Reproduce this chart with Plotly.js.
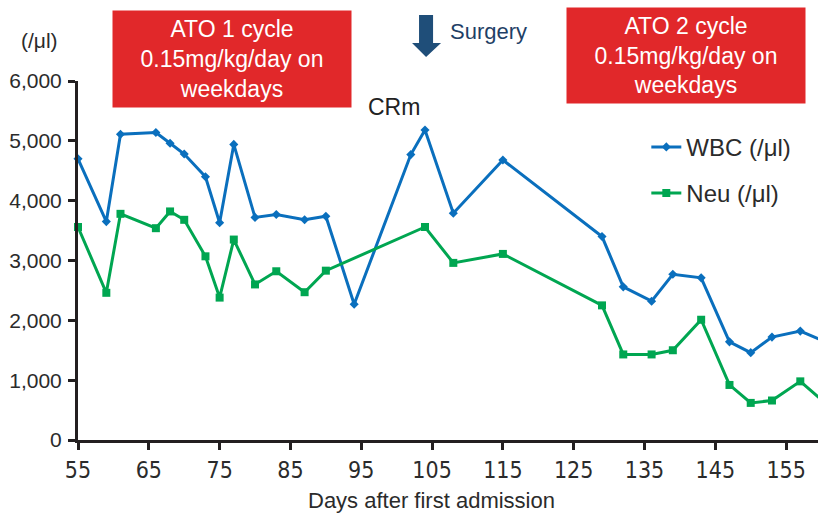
<!DOCTYPE html>
<html>
<head>
<meta charset="utf-8">
<script src="https://cdn.plot.ly/plotly-3.0.1.min.js"></script>
<style>html,body{margin:0;padding:0;background:#fff;}#chart{width:819px;height:514px;}</style>
</head>
<body>
<div id="chart"></div>
<script>
// Days after first admission
const daysWBC = [55,59,61,66,68,70,73,75,77,80,83,87,90,94,102,104,108,115,129,132,136,139,143,147,150,153,157,160];
const wbc     = [4700,3650,5110,5140,4960,4780,4400,3630,4940,3720,3770,3680,3740,2270,4770,5180,3790,4680,3400,2560,2320,2770,2710,1640,1460,1720,1820,1670];
const daysNeu = [55,59,61,66,68,70,73,75,77,80,83,87,90,104,108,115,129,132,136,139,143,147,150,153,157,160];
const neu     = [3560,2460,3780,3540,3820,3680,3070,2380,3350,2600,2820,2470,2830,3560,2960,3110,2250,1430,1430,1500,2010,920,620,660,980,670];
const xTicks = [55,65,75,85,95,105,115,125,135,145,155];
const yTicks = [0,1000,2000,3000,4000,5000,6000];

const traces = [
  {x: daysWBC, y: wbc, name: 'WBC (/μl)', type: 'scatter', mode: 'lines+markers',
   legendgroup: 'a', cliponaxis: false,
   line: {color: '#0a6fbd', width: 3}, marker: {symbol: 'diamond', size: 7, color: '#0a6fbd'}},
  {x: daysNeu, y: neu, name: 'Neu (/μl)', type: 'scatter', mode: 'lines+markers',
   legendgroup: 'b', cliponaxis: false,
   line: {color: '#00a651', width: 3}, marker: {symbol: 'square', size: 8, color: '#00a651'}}
];

const red = '#e1282a';
const layout = {
  width: 819, height: 514,
  margin: {l: 78, r: 1, t: 81, b: 74},
  paper_bgcolor: '#fff', plot_bgcolor: '#fff',
  font: {family: '"Liberation Sans", Arial, sans-serif', color: '#2b2b2b'},
  showlegend: true,
  legend: {x: 0.768, y: 0.878, xanchor: 'left', yanchor: 'top', traceorder: 'grouped', tracegroupgap: 12,
           itemwidth: 30, font: {size: 24, color: '#2b2b2b'}, bgcolor: 'rgba(0,0,0,0)'},
  xaxis: {range: [55, 159.5], tickvals: xTicks, ticktext: xTicks.map(String),
          showline: true, linecolor: '#231f20', linewidth: 3, ticks: 'outside', ticklen: 7, tickwidth: 3,
          tickcolor: '#231f20', showgrid: false, zeroline: false,
          tickfont: {family: '"Liberation Sans Narrow", "DejaVu Sans Condensed", sans-serif', size: 23, color: '#2b2b2b'}},
  yaxis: {range: [0, 6000], tickvals: yTicks, tickformat: ',d',
          showline: true, linecolor: '#231f20', linewidth: 3, ticks: 'outside', ticklen: 7, tickwidth: 3,
          tickcolor: '#231f20', showgrid: false, zeroline: false, ticklabelstandoff: 2,
          tickfont: {size: 21, color: '#2b2b2b'}},
  shapes: [
    {type: 'path', xref: 'x', yref: 'paper', line: {width: 0}, fillcolor: '#1f4e79',
     path: 'M 103.16,1.184 L 105.14,1.184 L 105.14,1.106 L 106.27,1.106 L 104.15,1.067 L 102.17,1.106 L 103.16,1.106 Z'}
  ],
  annotations: [
    {xref: 'paper', yref: 'paper', x: 0.208, y: 1.061, xanchor: 'center', yanchor: 'middle', showarrow: false,
     text: 'ATO 1 cycle<br>0.15mg/kg/day on<br>weekdays', bgcolor: red, width: 238, height: 96, borderpad: 0,
     font: {size: 23, color: '#ffffff'}},
    {xref: 'paper', yref: 'paper', x: 0.8216, y: 1.071, xanchor: 'center', yanchor: 'middle', showarrow: false,
     text: 'ATO 2 cycle<br>0.15mg/kg/day on<br>weekdays', bgcolor: red, width: 238, height: 95, borderpad: 0,
     font: {size: 23, color: '#ffffff'}},
    {xref: 'paper', yref: 'paper', x: 0.5, y: 1.139, xanchor: 'left', yanchor: 'middle', showarrow: false,
     text: 'Surgery', font: {size: 22, color: '#1f3f66'}},
    {xref: 'paper', yref: 'paper', x: 0.427, y: 0.9276, xanchor: 'center', yanchor: 'middle', showarrow: false,
     text: 'CRm', font: {size: 23, color: '#222'}},
    {xref: 'paper', yref: 'paper', x: -0.0527, y: 1.114, xanchor: 'center', yanchor: 'middle', showarrow: false,
     text: '(/μl)', font: {size: 21, color: '#2b2b2b'}},
    {xref: 'paper', yref: 'paper', x: 0.478, y: -0.168, xanchor: 'center', yanchor: 'middle', showarrow: false,
     text: 'Days after first admission', font: {size: 22, color: '#2b2b2b'}}
  ]
};

Plotly.newPlot('chart', traces, layout, {displayModeBar: false, staticPlot: true});
</script>
</body>
</html>
